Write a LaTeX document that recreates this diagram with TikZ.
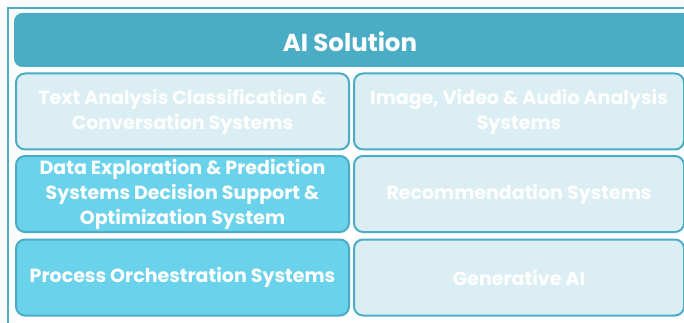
\documentclass[tikz,border=0pt]{standalone}
\usepackage{fontspec}
\setmainfont{Poppins}
\definecolor{accent}{HTML}{4BACC6}
\definecolor{lightfill}{HTML}{DAEEF3}
\definecolor{hifill}{HTML}{6BD2EC}
\begin{document}
\begin{tikzpicture}[x=1pt,y=-1pt,
  cell/.style={draw=accent,line width=2pt,rounded corners=9pt,fill=lightfill,
    minimum width=#1,minimum height=76pt,inner sep=0pt,anchor=north west,
    text=white,font=\fontsize{19}{25}\selectfont\bfseries,align=center},
  cell/.default=333pt,
  hicell/.style={cell,fill=hifill}]
\useasboundingbox (0,0) rectangle (684,323);
\clip (0,0) rectangle (684,323);
\fill[white] (0,0) rectangle (684,323);
\draw[accent,line width=2.5pt] (8,8) rectangle (700,340);
\node[fill=accent,draw=accent,line width=1pt,rounded corners=8pt,anchor=north west,
  minimum width=676pt,minimum height=53pt,inner sep=0pt] (head) at (14,13) {};
\node[text=white,font=\fontsize{24.5}{28}\selectfont\bfseries] (headtxt) at (350,42) {AI Solution};
\node[cell] (t) at (15,72.5) {Text Analysis Classification \&\\Conversation Systems};
\node[cell=330pt] (i) at (353,72.5) {Image, Video \& Audio Analysis\\Systems};
\node[hicell] (d) at (15,155) {Data Exploration \& Prediction\\Systems Decision Support \&\\Optimization System};
\node[cell=330pt] (r) at (353,155) {Recommendation Systems};
\node[hicell] (p) at (15,238.5) {Process Orchestration Systems};
\node[cell=330pt] (g) at (353,238.5) {Generative AI};
\end{tikzpicture}
\end{document}
